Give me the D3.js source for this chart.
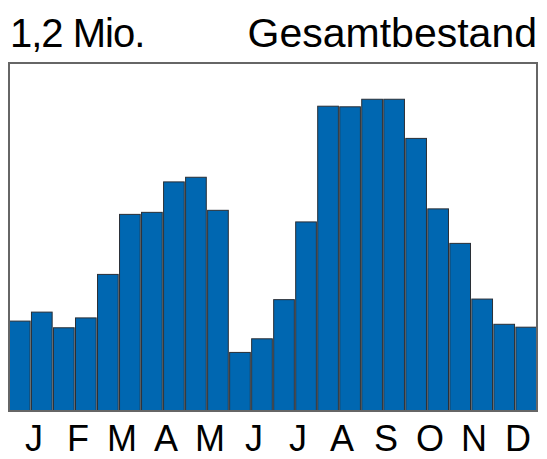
<!DOCTYPE html>
<html>
<head>
<meta charset="utf-8">
<script src="https://cdn.jsdelivr.net/npm/d3@7"></script>
<style>
  body { margin: 0; background: #fff; }
  svg { display: block; }
  text { font-family: "Liberation Sans", Arial, sans-serif; fill: #000; }
</style>
</head>
<body>
<svg id="svg" width="547" height="459"></svg>
<script>
// half-month values, in thousands
var periods = d3.range(24);
var values = [310, 341, 287, 321, 471, 678, 685, 790, 806, 692, 202, 249,
              384, 652, 1051, 1049, 1075, 1075, 940, 697, 578, 386, 299, 289];
var months = ["J", "F", "M", "A", "M", "J", "J", "A", "S", "O", "N", "D"];
var yMax = 1200;

var svg = d3.select("#svg");
var chart = {left: 9, right: 537, top: 63, bottom: 411};

var xScale = d3.scaleBand()
    .domain(periods)
    .range([chart.left, chart.right])
    .paddingInner(0.06)
    .paddingOuter(0.02);

var monthScale = d3.scaleBand()
    .domain(d3.range(12))
    .range([chart.left, chart.right]);

var yScale = d3.scaleLinear()
    .domain([0, yMax])
    .range([chart.bottom, chart.top]);

svg.append("g")
    .selectAll("rect")
    .data(values)
    .enter()
    .append("rect")
    .attr("x", function (d, i) { return xScale(i); })
    .attr("y", function (d) { return yScale(d); })
    .attr("width", xScale.bandwidth())
    .attr("height", function (d) { return yScale(0) - yScale(d); })
    .attr("fill", "#0067b1")
    .attr("stroke", "#2a2f36")
    .attr("stroke-width", 1);

// frame
svg.append("rect")
    .attr("x", chart.left)
    .attr("y", chart.top)
    .attr("width", chart.right - chart.left)
    .attr("height", chart.bottom - chart.top)
    .attr("fill", "none")
    .attr("stroke", "#666")
    .attr("stroke-width", 2);

var xAxis = d3.axisBottom(monthScale)
    .tickSize(0)
    .tickPadding(0)
    .tickFormat(function (d) { return months[d]; });

var xAxisG = svg.append("g")
    .attr("transform", "translate(3," + chart.bottom + ")")
    .call(xAxis);
xAxisG.select(".domain").remove();
xAxisG.selectAll("text")
    .attr("dy", null)
    .attr("y", 40)
    .style("font-size", "36px")
    .style("font-family", "Liberation Sans, Arial, sans-serif")
    .attr("fill", "#000");

svg.append("text")
    .attr("x", 10)
    .attr("y", 47)
    .style("font-size", "40px")
    .style("letter-spacing", "-1px")
    .text("1,2 Mio.");

svg.append("text")
    .attr("x", 537)
    .attr("y", 47)
    .attr("text-anchor", "end")
    .style("font-size", "41px")
    .text("Gesamtbestand");
</script>
</body>
</html>
